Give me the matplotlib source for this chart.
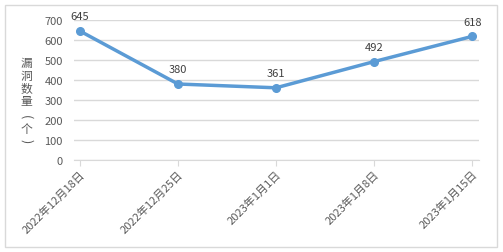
import matplotlib
matplotlib.use("Agg")
import matplotlib.pyplot as plt
from matplotlib.patches import Rectangle

plt.rcParams['font.family'] = ['Noto Sans CJK SC', 'DejaVu Sans']

categories = ["2022年12月18日", "2022年12月25日", "2023年1月1日", "2023年1月8日", "2023年1月15日"]
values = [645, 380, 361, 492, 618]
yticks = [0, 100, 200, 300, 400, 500, 600, 700]
ylabel_chars = ["漏", "洞", "数", "量", "(", "个", ")"]

W, H = 503, 253
fig = plt.figure(figsize=(W / 100, H / 100), dpi=100)
fig.patch.set_facecolor("white")
fig.patches.append(Rectangle((5 / W, 1 - 248 / H), 492 / W, 242 / H, transform=fig.transFigure,
                             fill=False, edgecolor="#D9D9D9", linewidth=1))

ax = fig.add_axes([74 / W, 1 - 161 / H, (479 - 74) / W, 140 / H])
x = list(range(len(categories)))
ax.plot(x, values, color="#5B9BD5", linewidth=2.5, marker="o", markersize=5.5, zorder=3)
for xi, v in zip(x, values):
    ax.annotate(str(v), (xi, v), xytext=(0, 7), textcoords="offset points",
                ha="center", va="bottom", fontsize=8, color="#404040")

ax.set_ylim(0, 700)
ax.set_xlim(-0.06, 4.07)
ax.set_yticks(yticks)
ax.set_yticklabels([str(t) for t in yticks], fontsize=8, color="#595959")
ax.set_xticks(x)
ax.set_xticklabels(categories, rotation=45, ha="right", rotation_mode="anchor",
                   fontsize=8, color="#595959")
ax.tick_params(axis="y", length=0, pad=8)
ax.tick_params(axis="x", length=4, color="#D9D9D9", pad=2)
ax.grid(axis="y", color="#D9D9D9", linewidth=1)
ax.set_axisbelow(True)
for s in ["top", "right", "left"]:
    ax.spines[s].set_visible(False)
ax.spines["bottom"].set_color("#D9D9D9")
ax.spines["bottom"].set_zorder(1)

ys = [63, 76, 89, 102, 117, 129, 141]
for ch, yy in zip(ylabel_chars, ys):
    rot = -90 if ch in "()" else 0
    fig.text(26 / W, 1 - yy / H, ch, ha="center", va="center", rotation=rot,
             fontsize=9 if rot else 8.5, color="#595959")

fig.savefig("out.png", dpi=100)
